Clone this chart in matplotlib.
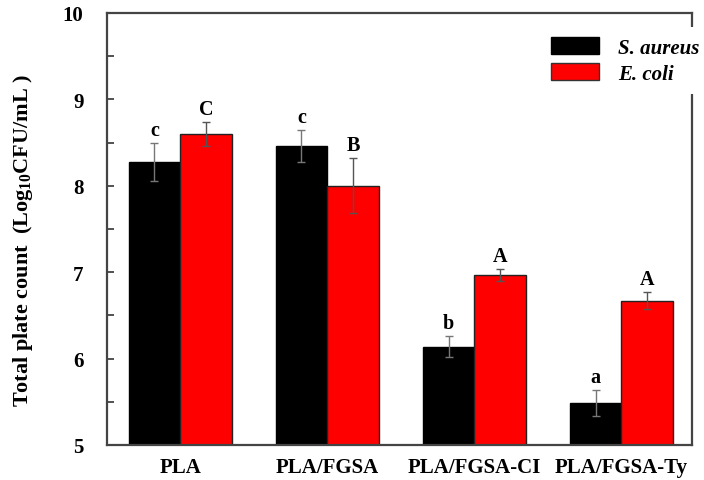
import matplotlib
matplotlib.use("Agg")
import matplotlib.pyplot as plt
import numpy as np
from matplotlib.patches import Patch

plt.rcParams['font.family'] = ['Liberation Serif', 'DejaVu Serif']
plt.rcParams['font.weight'] = 'bold'
plt.rcParams['mathtext.fontset'] = 'custom'
plt.rcParams['mathtext.rm'] = 'Liberation Serif:bold'
plt.rcParams['mathtext.it'] = 'Liberation Serif:italic:bold'
plt.rcParams['mathtext.bf'] = 'Liberation Serif:bold'

categories = ["PLA", "PLA/FGSA", "PLA/FGSA-CI", "PLA/FGSA-Ty"]
s_aureus = [8.28, 8.46, 6.14, 5.49]
s_aureus_err = [0.22, 0.19, 0.12, 0.15]
e_coli = [8.60, 8.00, 6.97, 6.67]
e_coli_err = [0.14, 0.32, 0.07, 0.10]
s_letters = ["c", "c", "b", "a"]
e_letters = ["C", "B", "A", "A"]

fig = plt.figure(figsize=(7.04, 4.81), dpi=100)
ax = fig.add_axes([107/704, 35/481, 585/704, 432/481])

x = np.arange(len(categories))
w = 0.35
ax.bar(x - w/2, s_aureus, w, color='black', edgecolor='black', linewidth=1, zorder=2)
ax.bar(x + w/2, e_coli, w, color='#ff0000', edgecolor='#222222', linewidth=1, zorder=2)
ax.errorbar(x - w/2, s_aureus, yerr=s_aureus_err, fmt='none', ecolor='#777777',
            elinewidth=1, capsize=3, capthick=1, zorder=3)
ax.errorbar(x + w/2, e_coli, yerr=e_coli_err, fmt='none', ecolor='#555555',
            elinewidth=1, capsize=3, capthick=1, zorder=3)

for xi, v, e, t in zip(x - w/2, s_aureus, s_aureus_err, s_letters):
    ax.annotate(t, (xi, v + e), xytext=(0, 2), textcoords='offset points',
                ha='center', va='bottom', fontsize=14.5, fontweight='bold')
for xi, v, e, t in zip(x + w/2, e_coli, e_coli_err, e_letters):
    ax.annotate(t, (xi, v + e), xytext=(0, 2), textcoords='offset points',
                ha='center', va='bottom', fontsize=14.5, fontweight='bold')

ax.set_ylim(5, 10)
ax.set_xlim(-0.497, 3.48)
ax.set_yticks([5, 6, 7, 8, 9, 10])
ax.set_yticks(np.arange(5.5, 10, 1.0), minor=True)
ax.tick_params(axis='y', which='both', direction='in', length=5, width=1.2,
               pad=17, labelsize=15, color='#333333')
ax.tick_params(axis='x', length=0, pad=9, labelsize=15)
ax.set_xticks(x)
ax.set_xticklabels(categories, fontweight='bold')
for lab in ax.get_yticklabels():
    lab.set_fontweight('bold')

for sp in ax.spines.values():
    sp.set_linewidth(1.6)
    sp.set_color('#444444')

ax.set_ylabel("Total plate count  (Log$_{10}$CFU/mL )", fontsize=16,
              fontweight='bold')
ax.yaxis.set_label_coords(-0.123, 0.475)

handles = [Patch(facecolor='black', edgecolor='black'),
           Patch(facecolor='#ff0000', edgecolor='#333333')]
leg = ax.legend(handles, ["S. aureus", "E. coli"], loc='upper left',
                bbox_to_anchor=(541/704, 453/481), bbox_transform=fig.transFigure,
                frameon=True, fancybox=False, framealpha=1, edgecolor='none',
                facecolor='white', borderpad=0.5, borderaxespad=0,
                handlelength=2.3, handleheight=0.87, labelspacing=0.25,
                handletextpad=0.9, prop={'size': 15, 'style': 'italic', 'weight': 'bold'})

fig.savefig("out.png", dpi=100)
